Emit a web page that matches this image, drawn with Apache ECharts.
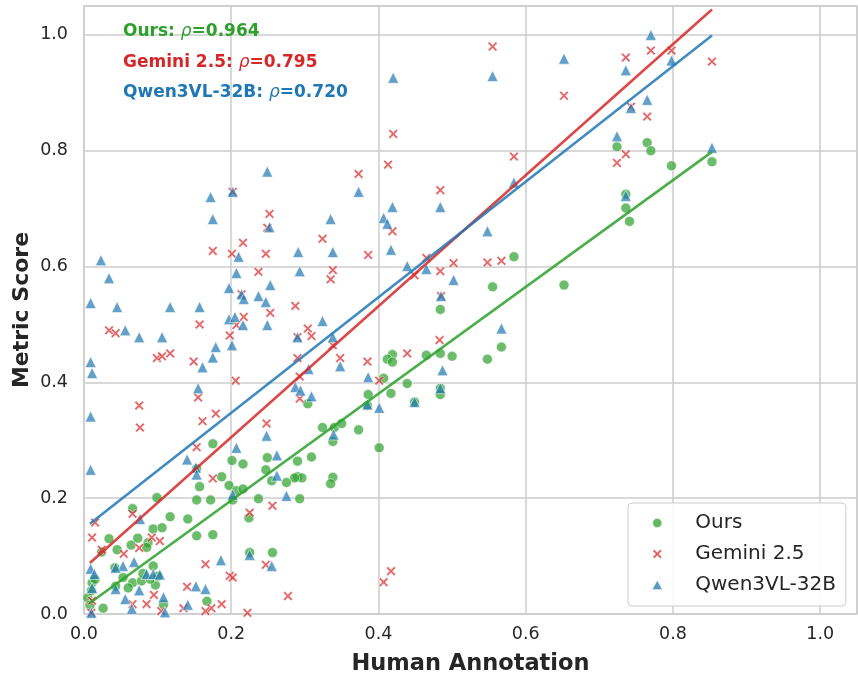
<!DOCTYPE html>
<html>
<head>
<meta charset="utf-8">
<script src="https://cdn.jsdelivr.net/npm/echarts@6/dist/echarts.min.js"></script>
<style>html,body{margin:0;padding:0;background:#fff;}#chart{width:858px;height:675px;}</style>
</head>
<body>
<div id="chart"></div>
<script>
// ---------- data ----------
const seriesNames = ['Ours', 'Gemini 2.5', 'Qwen3VL-32B'];
const rhoLabels = ['0.964', '0.795', '0.720'];
const xTicks = [0.0, 0.2, 0.4, 0.6, 0.8, 1.0];
const yTicks = [0.0, 0.2, 0.4, 0.6, 0.8, 1.0];

const oursPoints = [
  [0.724,0.807],[0.765,0.814],[0.770,0.800],[0.798,0.774],[0.853,0.781],[0.736,0.725],[0.736,0.701],[0.741,0.678],
  [0.584,0.617],[0.555,0.565],[0.652,0.568],[0.567,0.461],[0.548,0.440],[0.484,0.526],[0.484,0.450],[0.465,0.447],
  [0.500,0.445],[0.419,0.448],[0.412,0.440],[0.419,0.435],[0.407,0.407],[0.439,0.398],[0.386,0.379],[0.417,0.381],
  [0.484,0.390],[0.484,0.379],[0.449,0.366],[0.385,0.360],[0.304,0.363],[0.324,0.322],[0.340,0.322],[0.350,0.329],
  [0.373,0.318],[0.338,0.298],[0.401,0.287],[0.309,0.271],[0.290,0.264],[0.338,0.236],[0.335,0.225],[0.290,0.237],
  [0.296,0.235],[0.286,0.235],[0.275,0.227],[0.293,0.199],
  [0.175,0.294],[0.201,0.265],[0.216,0.259],[0.249,0.270],[0.153,0.251],[0.247,0.249],[0.255,0.230],[0.187,0.237],
  [0.157,0.220],[0.197,0.222],[0.207,0.213],[0.216,0.216],[0.237,0.199],[0.099,0.201],[0.153,0.197],[0.172,0.197],
  [0.202,0.197],[0.224,0.166],[0.066,0.182],[0.117,0.168],[0.141,0.164],[0.094,0.147],[0.106,0.149],[0.153,0.135],
  [0.175,0.137],[0.034,0.130],[0.024,0.107],[0.045,0.111],[0.064,0.119],[0.073,0.131],[0.087,0.123],[0.085,0.115],
  [0.094,0.083],[0.225,0.106],[0.256,0.106],[0.042,0.080],[0.053,0.063],[0.066,0.054],[0.078,0.057],[0.097,0.050],
  [0.080,0.070],[0.090,0.060],[0.100,0.065],[0.060,0.045],[0.011,0.054],[0.043,0.048],[0.108,0.016],[0.167,0.022],
  [0.026,0.010],[0.005,0.028],[0.010,0.040],[0.015,0.060],[0.008,0.015]
];

const geminiPoints = [
  [0.202,0.729],[0.420,0.829],[0.413,0.776],[0.373,0.760],[0.484,0.732],[0.555,0.980],[0.652,0.895],[0.770,0.973],
  [0.736,0.961],[0.798,0.973],[0.743,0.876],[0.765,0.859],[0.736,0.794],[0.724,0.779],[0.584,0.790],[0.853,0.954],
  [0.252,0.691],[0.249,0.667],[0.216,0.641],[0.175,0.627],[0.201,0.622],[0.247,0.622],[0.237,0.591],[0.214,0.552],
  [0.253,0.520],[0.157,0.500],[0.217,0.513],[0.207,0.499],[0.034,0.490],[0.043,0.485],[0.198,0.481],[0.099,0.442],
  [0.106,0.445],[0.117,0.450],[0.149,0.436],[0.206,0.403],[0.155,0.374],
  [0.419,0.661],[0.324,0.648],[0.386,0.620],[0.465,0.615],[0.449,0.585],[0.484,0.592],[0.502,0.606],[0.338,0.594],
  [0.335,0.578],[0.485,0.549],[0.287,0.532],[0.304,0.493],[0.309,0.480],[0.290,0.478],[0.338,0.464],[0.290,0.442],
  [0.348,0.442],[0.385,0.436],[0.439,0.450],[0.483,0.473],[0.293,0.410],[0.401,0.403],[0.293,0.372],[0.548,0.607],
  [0.567,0.610],
  [0.075,0.360],[0.179,0.346],[0.161,0.333],[0.076,0.322],[0.248,0.329],[0.153,0.288],[0.175,0.234],[0.256,0.187],
  [0.225,0.175],[0.066,0.173],[0.015,0.158],[0.092,0.132],[0.103,0.126],[0.011,0.132],[0.024,0.111],[0.075,0.114],
  [0.054,0.104],[0.165,0.086],[0.247,0.085],[0.198,0.066],[0.202,0.063],[0.140,0.047],[0.095,0.033],[0.066,0.017],
  [0.085,0.017],[0.173,0.010],[0.187,0.017],[0.011,0.023],[0.277,0.031],[0.417,0.074],[0.407,0.055],[0.222,0.002],
  [0.010,0.002],[0.165,0.005],[0.105,0.005],[0.135,0.010]
];

const qwenPoints = [
  [0.249,0.764],[0.172,0.720],[0.202,0.729],[0.420,0.926],[0.373,0.729],[0.555,0.929],[0.652,0.959],[0.770,1.000],
  [0.736,0.939],[0.798,0.956],[0.765,0.888],[0.743,0.874],[0.724,0.825],[0.584,0.745],[0.736,0.722],[0.853,0.805],
  [0.175,0.682],[0.252,0.668],[0.210,0.617],[0.023,0.611],[0.207,0.589],[0.034,0.580],[0.197,0.563],[0.253,0.568],
  [0.214,0.552],[0.217,0.544],[0.237,0.549],[0.247,0.539],[0.009,0.537],[0.045,0.530],[0.117,0.530],[0.157,0.530],
  [0.197,0.509],[0.205,0.513],[0.216,0.499],[0.249,0.499],[0.056,0.490],[0.075,0.478],[0.106,0.478],[0.179,0.461],
  [0.201,0.464],[0.175,0.443],[0.161,0.426],[0.009,0.435],[0.011,0.416],[0.155,0.390],
  [0.419,0.703],[0.484,0.703],[0.335,0.682],[0.407,0.684],[0.412,0.674],[0.291,0.625],[0.338,0.625],[0.417,0.629],
  [0.439,0.601],[0.465,0.596],[0.502,0.577],[0.293,0.592],[0.485,0.549],[0.324,0.506],[0.290,0.478],[0.338,0.478],
  [0.348,0.428],[0.487,0.421],[0.305,0.423],[0.386,0.409],[0.287,0.392],[0.294,0.386],[0.309,0.376],[0.484,0.390],
  [0.548,0.661],[0.567,0.493],
  [0.449,0.366],[0.385,0.362],[0.401,0.356],[0.339,0.310],[0.275,0.204],[0.009,0.341],[0.248,0.308],[0.207,0.287],
  [0.140,0.267],[0.262,0.274],[0.152,0.253],[0.153,0.241],[0.262,0.239],[0.009,0.249],[0.202,0.206],[0.076,0.164],
  [0.068,0.090],[0.053,0.083],[0.043,0.080],[0.186,0.093],[0.255,0.083],[0.225,0.102],[0.009,0.078],[0.014,0.069],
  [0.085,0.069],[0.094,0.069],[0.103,0.068],[0.011,0.045],[0.043,0.043],[0.075,0.041],[0.152,0.048],[0.165,0.043],
  [0.108,0.029],[0.056,0.026],[0.141,0.016],[0.065,0.009],[0.010,0.002],[0.110,0.003]
];

// fitted regression lines (endpoints)
const fitX = [0.008, 0.853];
const oursFitY = [0.019, 0.798];
const geminiFitY = [0.088, 1.044];
const qwenFitY = [0.156, 0.999];

// ---------- styling ----------
const colors = ['#2ca02c', '#d62728', '#1f77b4'];
const xPath = 'path://M0,1.7 L1.7,0 L5,3.3 L8.3,0 L10,1.7 L6.7,5 L10,8.3 L8.3,10 L5,6.7 L1.7,10 L0,8.3 L3.3,5 Z';
const symbols = ['circle', xPath, 'triangle'];
const symbolSizes = [10, 9.5, 11];
const pointSets = [oursPoints, geminiPoints, qwenPoints];
const fitSets = [oursFitY, geminiFitY, qwenFitY];
const FONT = 'DejaVu Sans';
const TXT = '#262626';

const chart = echarts.init(document.getElementById('chart'), null, {renderer: 'canvas'});

const series = [];
pointSets.forEach((pts, i) => {
  series.push({
    name: seriesNames[i], type: 'scatter', data: pts,
    symbol: symbols[i], symbolSize: symbolSizes[i],
    itemStyle: {color: colors[i], opacity: 0.7, borderColor: '#ffffff', borderWidth: 0.8},
    emphasis: {disabled: true}, z: 2 + i
  });
});
fitSets.forEach((fy, i) => {
  series.push({
    name: seriesNames[i] + ' fit', type: 'line',
    data: fitX.map((x, k) => [x, fy[k]]),
    symbol: 'none', lineStyle: {color: colors[i], width: 2.6, opacity: 0.85},
    emphasis: {disabled: true}, z: 6 + i, silent: true
  });
});

const titles = seriesNames.map((n, i) => ({
  left: 123, top: 22 + i * 30.5, padding: 0,
  text: '{b|' + n + ': }{r|ρ}{b|=' + rhoLabels[i] + '}',
  textStyle: {
    rich: {
      b: {fontFamily: FONT, fontSize: 17, fontWeight: 'bold', color: colors[i], lineHeight: 20},
      r: {fontFamily: FONT, fontSize: 17, fontStyle: 'italic', fontWeight: 'normal', color: colors[i], lineHeight: 20}
    }
  }
}));

const legendData = seriesNames.map((n, i) => ({
  name: n,
  icon: symbols[i],
  itemStyle: {color: colors[i], opacity: 0.75, borderColor: '#ffffff', borderWidth: 0.5}
}));

chart.setOption({
  animation: false,
  backgroundColor: '#ffffff',
  title: titles,
  grid: {left: 84, top: 6, width: 773, height: 608, outerBoundsMode: 'none', containLabel: false,
    show: true, borderColor: '#cccccc', borderWidth: 1.5, backgroundColor: 'transparent'},
  xAxis: {
    type: 'value', min: 0, max: 1.05, interval: 0.2,
    name: 'Human Annotation', nameLocation: 'middle', nameGap: 39,
    nameTextStyle: {fontFamily: FONT, fontSize: 22.5, fontWeight: 'bold', color: TXT},
    axisLine: {show: false}, axisTick: {show: false},
    axisLabel: {fontFamily: FONT, fontSize: 17.5, color: TXT, margin: 11, showMaxLabel: false,
      formatter: v => xTicks.some(t => Math.abs(t - v) < 1e-9) ? v.toFixed(1) : ''},
    splitLine: {show: true, lineStyle: {color: '#cccccc', width: 1.5}}
  },
  yAxis: {
    type: 'value', min: 0, max: 1.05, interval: 0.2,
    name: 'Metric Score', nameLocation: 'middle', nameGap: 51, nameMoveOverlap: false,
    nameTextStyle: {fontFamily: FONT, fontSize: 22, fontWeight: 'bold', color: TXT},
    axisLine: {show: false}, axisTick: {show: false},
    axisLabel: {fontFamily: FONT, fontSize: 17.5, color: TXT, margin: 16, showMaxLabel: false,
      formatter: v => yTicks.some(t => Math.abs(t - v) < 1e-9) ? v.toFixed(1) : ''},
    splitLine: {show: true, lineStyle: {color: '#cccccc', width: 1.5}}
  },
  legend: {
    data: legendData, orient: 'vertical', left: 628, top: 503,
    padding: [10, 10, 11, 24], itemWidth: 10, itemHeight: 9, itemGap: 11,
    backgroundColor: 'rgba(255,255,255,0.85)', borderColor: '#cccccc', borderWidth: 1, borderRadius: 4,
    textStyle: {fontFamily: FONT, fontSize: 20, color: TXT, padding: [0, 0, 0, 28]},
    selectedMode: false
  },
  series: series
});
</script>
</body>
</html>
